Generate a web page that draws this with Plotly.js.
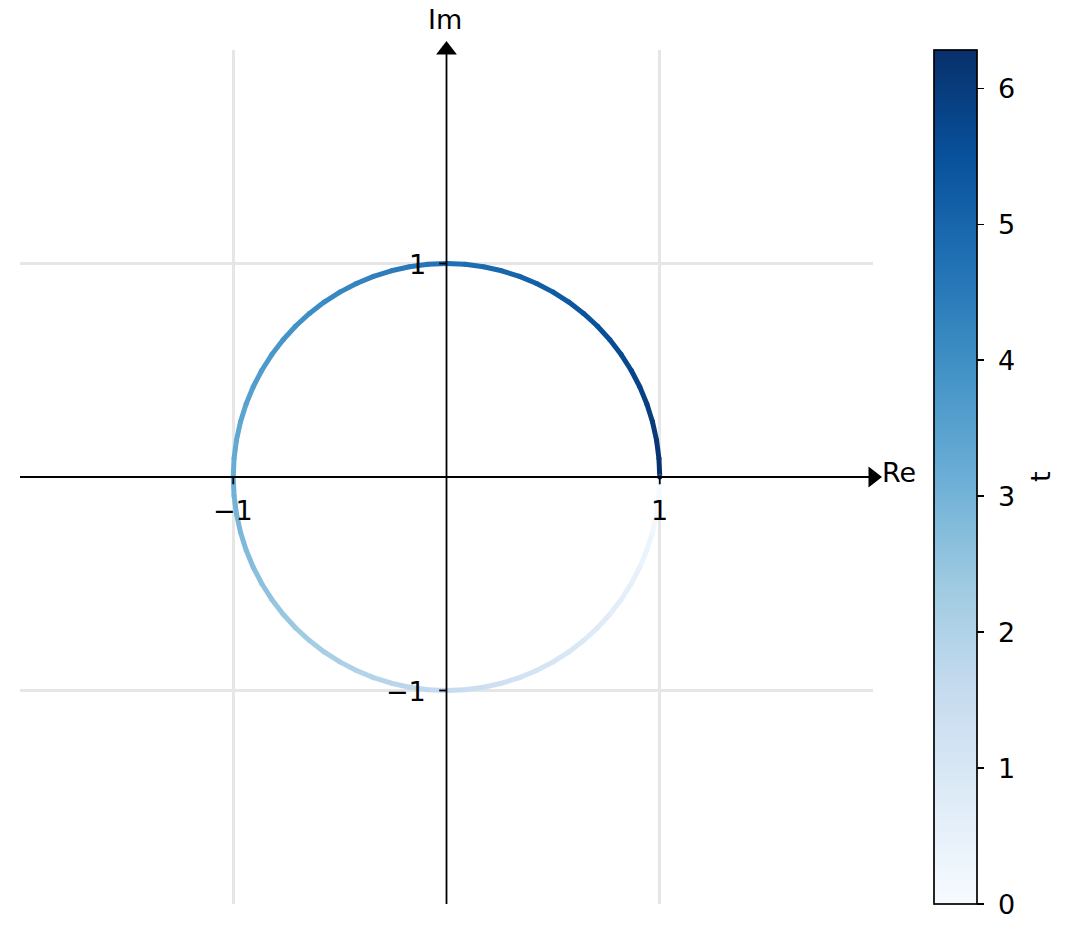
<!DOCTYPE html>
<html>
<head>
<meta charset="utf-8">
<script src="https://cdn.plot.ly/plotly-3.0.1.min.js"></script>
<style>html,body{margin:0;padding:0;background:#fff;}#chart{width:1073px;height:941px;}</style>
</head>
<body>
<div id="chart"></div>
<script>
// Parameter t (radians), sampled every 5 degrees from 0 to 2*pi
var t = [0, 0.0873, 0.1745, 0.2618, 0.3491, 0.4363, 0.5236, 0.6109, 0.6981, 0.7854, 0.8727, 0.9599, 1.0472, 1.1345, 1.2217, 1.3090, 1.3963, 1.4835,
  1.5708, 1.6581, 1.7453, 1.8326, 1.9199, 2.0071, 2.0944, 2.1817, 2.2689, 2.3562, 2.4435, 2.5307, 2.6180, 2.7053, 2.7925, 2.8798, 2.9671, 3.0543,
  3.1416, 3.2289, 3.3161, 3.4034, 3.4907, 3.5779, 3.6652, 3.7525, 3.8397, 3.9270, 4.0143, 4.1015, 4.1888, 4.2761, 4.3633, 4.4506, 4.5379, 4.6251,
  4.7124, 4.7997, 4.8869, 4.9742, 5.0615, 5.1487, 5.2360, 5.3233, 5.4105, 5.4978, 5.5851, 5.6723, 5.7596, 5.8469, 5.9341, 6.0214, 6.1087, 6.1959,
  6.2832];
// Real part of z(t)
var re = [1, 0.9962, 0.9848, 0.9659, 0.9397, 0.9063, 0.8660, 0.8192, 0.7660, 0.7071, 0.6428, 0.5736, 0.5, 0.4226, 0.3420, 0.2588, 0.1736, 0.0872,
  0, -0.0872, -0.1736, -0.2588, -0.3420, -0.4226, -0.5, -0.5736, -0.6428, -0.7071, -0.7660, -0.8192, -0.8660, -0.9063, -0.9397, -0.9659, -0.9848, -0.9962,
  -1, -0.9962, -0.9848, -0.9659, -0.9397, -0.9063, -0.8660, -0.8192, -0.7660, -0.7071, -0.6428, -0.5736, -0.5, -0.4226, -0.3420, -0.2588, -0.1736, -0.0872,
  0, 0.0872, 0.1736, 0.2588, 0.3420, 0.4226, 0.5, 0.5736, 0.6428, 0.7071, 0.7660, 0.8192, 0.8660, 0.9063, 0.9397, 0.9659, 0.9848, 0.9962,
  1];
// Imaginary part of z(t)
var im = [0, -0.0872, -0.1736, -0.2588, -0.3420, -0.4226, -0.5, -0.5736, -0.6428, -0.7071, -0.7660, -0.8192, -0.8660, -0.9063, -0.9397, -0.9659, -0.9848, -0.9962,
  -1, -0.9962, -0.9848, -0.9659, -0.9397, -0.9063, -0.8660, -0.8192, -0.7660, -0.7071, -0.6428, -0.5736, -0.5, -0.4226, -0.3420, -0.2588, -0.1736, -0.0872,
  0, 0.0872, 0.1736, 0.2588, 0.3420, 0.4226, 0.5, 0.5736, 0.6428, 0.7071, 0.7660, 0.8192, 0.8660, 0.9063, 0.9397, 0.9659, 0.9848, 0.9962,
  1, 0.9962, 0.9848, 0.9659, 0.9397, 0.9063, 0.8660, 0.8192, 0.7660, 0.7071, 0.6428, 0.5736, 0.5, 0.4226, 0.3420, 0.2588, 0.1736, 0.0872,
  0];

var xTickVals = [-1, 1];
var xTickText = ['\u22121', '1'];
var yTickVals = [-1, 1];
var yTickText = ['\u22121', '1'];
var cbTickVals = [0, 1, 2, 3, 4, 5, 6];
var cbTickText = ['0', '1', '2', '3', '4', '5', '6'];

// matplotlib "Blues"
var bluesStops = [
  [0.000, [247, 251, 255]], [0.125, [222, 235, 247]], [0.250, [198, 219, 239]],
  [0.375, [158, 202, 225]], [0.500, [107, 174, 214]], [0.625, [66, 146, 198]],
  [0.750, [33, 113, 181]], [0.875, [8, 81, 156]], [1.000, [8, 48, 107]]
];
var colorscale = bluesStops.map(function (s) { return [s[0], 'rgb(' + s[1].join(',') + ')']; });
function blues(f) {
  f = Math.max(0, Math.min(1, f));
  for (var i = 1; i < bluesStops.length; i++) {
    if (f <= bluesStops[i][0]) {
      var a = bluesStops[i - 1], b = bluesStops[i];
      var u = (f - a[0]) / (b[0] - a[0]);
      var c = a[1].map(function (v, k) { return Math.round(v + (b[1][k] - v) * u); });
      return 'rgb(' + c.join(',') + ')';
    }
  }
  return 'rgb(8,48,107)';
}

var tMin = t[0], tMax = t[t.length - 1];
var FONT = 'DejaVu Sans, sans-serif';
var FS = 27;
var TXT = {family: FONT, size: FS, color: '#000'};

var traces = [];
for (var i = 0; i < t.length - 1; i++) {
  traces.push({
    type: 'scatter', mode: 'lines', x: [re[i], re[i + 1]], y: [im[i], im[i + 1]],
    line: {color: blues(((t[i] + t[i + 1]) / 2 - tMin) / (tMax - tMin)), width: 5},
    hoverinfo: 'skip', showlegend: false
  });
}
// point trace carrying the colorbar
traces.push({
  type: 'scatter', mode: 'markers', x: re, y: im, showlegend: false,
  marker: {
    size: 5, color: t, colorscale: colorscale, cmin: tMin, cmax: tMax, showscale: true,
    colorbar: {
      x: 1.0715, xanchor: 'left', y: 0.5, yanchor: 'middle', len: 1, lenmode: 'fraction',
      thickness: 43, thicknessmode: 'pixels', xpad: 0, ypad: 0,
      outlinewidth: 1.7, outlinecolor: '#000',
      tickmode: 'array', tickvals: cbTickVals, ticks: 'outside', ticklen: 7, tickwidth: 1.7, tickcolor: '#000',
      showticklabels: false
    }
  },
  hovertemplate: 't=%{marker.color}<extra></extra>'
});
// arrow heads at axis ends
traces.push({
  type: 'scatter', mode: 'markers', x: [2, 0], y: [0, 2], cliponaxis: false, showlegend: false, hoverinfo: 'skip',
  marker: {symbol: ['triangle-right', 'triangle-up'], size: 18, color: '#000', line: {width: 0}}
});

var shapes = [];
xTickVals.forEach(function (v) {
  shapes.push({type: 'line', xref: 'x', yref: 'y', ysizemode: 'pixel', yanchor: 0, x0: v, x1: v, y0: 0, y1: -7.3,
    line: {color: '#000', width: 1.8}, layer: 'above'});
});
yTickVals.forEach(function (v) {
  shapes.push({type: 'line', xref: 'x', yref: 'y', xsizemode: 'pixel', xanchor: 0, x0: 0, x1: -7.3, y0: v, y1: v,
    line: {color: '#000', width: 1.8}, layer: 'above'});
});
// axis lines through origin
shapes.push({type: 'line', xref: 'x', yref: 'y', x0: -2, x1: 2, y0: 0, y1: 0, line: {color: '#000', width: 1.8}, layer: 'above'});
shapes.push({type: 'line', xref: 'x', yref: 'y', x0: 0, x1: 0, y0: -2, y1: 2, line: {color: '#000', width: 1.8}, layer: 'above'});

var annotations = [];
xTickVals.forEach(function (v, k) {
  annotations.push({x: v, y: 0, xref: 'x', yref: 'y', text: xTickText[k], showarrow: false,
    xanchor: 'center', yanchor: 'middle', yshift: -33, font: TXT});
});
yTickVals.forEach(function (v, k) {
  annotations.push({x: 0, y: v, xref: 'x', yref: 'y', text: yTickText[k], showarrow: false,
    xanchor: 'right', yanchor: 'middle', xshift: -19, yshift: -1, font: TXT});
});
annotations.push({x: 0, y: 2, xref: 'x', yref: 'y', text: 'Im', showarrow: false, xanchor: 'center', yanchor: 'middle',
  yshift: 31, xshift: -2, font: TXT});
annotations.push({x: 2, y: 0, xref: 'x', yref: 'y', text: 'Re', showarrow: false, xanchor: 'left', yanchor: 'middle',
  xshift: 7, yshift: 5, font: TXT});
// colorbar tick labels (colorbar spans the full plot height)
cbTickVals.forEach(function (v, k) {
  annotations.push({x: 1.1466, y: (v - tMin) / (tMax - tMin), xref: 'paper', yref: 'paper', text: cbTickText[k],
    showarrow: false, xanchor: 'left', yanchor: 'middle', xshift: -2, font: TXT});
});
// colorbar label
annotations.push({x: 1.1958, y: 0.5, xref: 'paper', yref: 'paper', text: 't', textangle: -90, showarrow: false,
  xanchor: 'center', yanchor: 'middle', font: TXT});

var layout = {
  width: 1073, height: 941,
  margin: {l: 20, r: 200, t: 50, b: 37, pad: 0},
  paper_bgcolor: '#fff', plot_bgcolor: '#fff',
  showlegend: false,
  font: TXT,
  xaxis: {range: [-2, 2], tickmode: 'array', tickvals: xTickVals, showticklabels: false, ticks: '',
    showgrid: true, gridcolor: '#e6e6e6', gridwidth: 3, zeroline: false, showline: false, fixedrange: true},
  yaxis: {range: [-2, 2], tickmode: 'array', tickvals: yTickVals, showticklabels: false, ticks: '',
    showgrid: true, gridcolor: '#e6e6e6', gridwidth: 3, zeroline: false, showline: false, fixedrange: true},
  shapes: shapes,
  annotations: annotations
};

Plotly.newPlot('chart', traces, layout, {displayModeBar: false, staticPlot: true});
</script>
</body>
</html>
